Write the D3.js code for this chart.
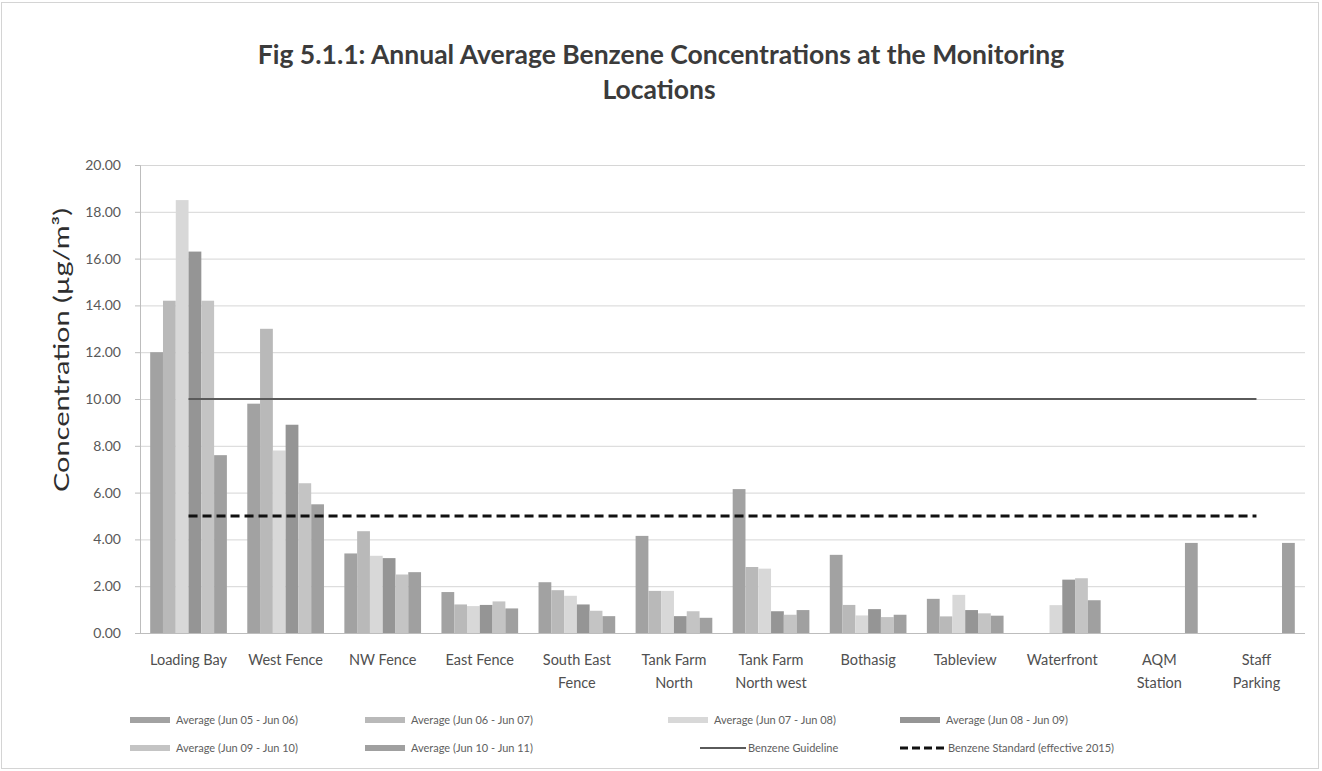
<!DOCTYPE html>
<html><head><meta charset="utf-8">
<script src="https://cdn.jsdelivr.net/npm/d3@7"></script>
<style>html,body{margin:0;padding:0;background:#fff;}svg{display:block;}</style>
</head><body>
<svg id="chart" width="1322" height="771"></svg>
<script>
const categories = ["Loading Bay","West Fence","NW Fence","East Fence","South East Fence","Tank Farm North","Tank Farm North west","Bothasig","Tableview","Waterfront","AQM Station","Staff Parking"];
const categoryLines = [["Loading Bay"],["West Fence"],["NW Fence"],["East Fence"],["South East","Fence"],["Tank Farm","North"],["Tank Farm","North west"],["Bothasig"],["Tableview"],["Waterfront"],["AQM","Station"],["Staff","Parking"]];
const seriesNames = ["Average (Jun 05 - Jun 06)","Average (Jun 06 - Jun 07)","Average (Jun 07 - Jun 08)","Average (Jun 08 - Jun 09)","Average (Jun 09 - Jun 10)","Average (Jun 10 - Jun 11)"];
const avg0506 = [12.0, 9.8, 3.4, 1.75, 2.17, 4.15, 6.15, 3.34, 1.46, null, null, null];
const avg0607 = [14.2, 13.0, 4.35, 1.22, 1.83, 1.8, 2.82, 1.2, 0.71, null, null, null];
const avg0708 = [18.5, 7.8, 3.3, 1.15, 1.59, 1.8, 2.75, 0.75, 1.63, 1.19, null, null];
const avg0809 = [16.3, 8.9, 3.2, 1.2, 1.22, 0.72, 0.93, 1.02, 0.98, 2.28, null, null];
const avg0910 = [14.2, 6.4, 2.5, 1.35, 0.95, 0.93, 0.78, 0.68, 0.84, 2.34, null, null];
const avg1011 = [7.6, 5.5, 2.6, 1.05, 0.72, 0.65, 0.98, 0.78, 0.74, 1.40, 3.85, 3.85];
const guideline = [10,10,10,10,10,10,10,10,10,10,10,10];
const standard2015 = [5,5,5,5,5,5,5,5,5,5,5,5];
const lineNames = ["Benzene Guideline","Benzene Standard (effective 2015)"];
const yTicks = [0,2,4,6,8,10,12,14,16,18,20];
const titleLines = ["Fig 5.1.1: Annual Average Benzene Concentrations at the Monitoring","Locations"];
const yTitle = "Concentration (\u00b5g/m\u00b3)";

const seriesValues = [avg0506, avg0607, avg0708, avg0809, avg0910, avg1011];
const seriesColors = ["#a2a2a2","#b9b9b9","#d8d8d8","#959595","#c4c4c4","#a0a0a0"];
const FONT = "Lato, 'Open Sans', sans-serif";

const svg = d3.select("#chart");
function fit(sel, target){
  const n = sel.node(); const w = n.getComputedTextLength();
  const fs = parseFloat(sel.attr("font-size"));
  if (w>0) sel.attr("font-size", (fs*target/w).toFixed(2));
}

// outer frame
svg.append("rect").attr("x",1.5).attr("y",2.5).attr("width",1317).attr("height",766)
  .attr("fill","none").attr("stroke","#d4d4d4").attr("stroke-width",1);

const plotL = 140, plotR = 1305, plotT = 165, plotB = 633;
const y = d3.scaleLinear().domain([0,20]).range([plotB, plotT]);
const x0 = d3.scaleBand().domain(categories).range([plotL, plotR]).paddingInner(0.21).paddingOuter(0.105);
const x1 = d3.scaleBand().domain(seriesNames).range([0, x0.bandwidth()]);

// gridlines
svg.append("g").selectAll("line").data(yTicks.filter(d=>d>0)).join("line")
  .attr("x1", plotL).attr("x2", plotR).attr("y1", d=>y(d)+0.5).attr("y2", d=>y(d)+0.5)
  .attr("stroke","#d6d6d6").attr("stroke-width",1);

// bars
const gBars = svg.append("g");
seriesValues.forEach((vals, si) => {
  gBars.append("g").selectAll("rect").data(categories.map((c,i)=>({c, v: vals[i]})).filter(d=>d.v!=null)).join("rect")
    .attr("x", d => x0(d.c) + x1(seriesNames[si]))
    .attr("width", x1.bandwidth())
    .attr("y", d => y(d.v))
    .attr("height", d => y(0) - y(d.v))
    .attr("fill", seriesColors[si]);
});

// lines
const lineGen = d3.line().x((d,i)=>x0(categories[i]) + x0.bandwidth()/2).y(d=>y(d));
svg.append("path").attr("d", lineGen(guideline)).attr("fill","none").attr("stroke","#5a5a5a").attr("stroke-width",2);
svg.append("path").attr("d", lineGen(standard2015)).attr("fill","none").attr("stroke","#111").attr("stroke-width",3).attr("stroke-dasharray","9,5");

// y axis
const yAxis = d3.axisLeft(y).tickValues(yTicks).tickFormat(d3.format(".2f")).tickSize(5).tickPadding(14);
const ga = svg.append("g").attr("transform",`translate(${plotL},0)`).call(yAxis);
ga.select(".domain").attr("stroke","#bdbdbd");
ga.selectAll(".tick line").attr("stroke","#bdbdbd");
ga.selectAll(".tick text").attr("font-family",FONT).attr("font-size",14).attr("fill","#595959");

// x axis baseline
svg.append("line").attr("x1",plotL).attr("x2",plotR).attr("y1",plotB+0.5).attr("y2",plotB+0.5).attr("stroke","#bdbdbd");

// x labels
const gx = svg.append("g");
categories.forEach((c,i)=>{
  const t = gx.append("text").attr("x", x0(c)+x0.bandwidth()/2).attr("y", 665)
    .attr("text-anchor","middle").attr("font-family",FONT).attr("font-size",14.5).attr("fill","#505050");
  categoryLines[i].forEach((ln,j)=>{
    t.append("tspan").attr("x", x0(c)+x0.bandwidth()/2).attr("dy", j===0?0:23).text(ln);
  });
});

// y title
svg.append("text").attr("transform","translate(69,350) rotate(-90)").attr("text-anchor","middle")
  .attr("font-family",FONT).attr("font-size",21).attr("fill","#2e2e2e")
  .attr("textLength",284).attr("lengthAdjust","spacingAndGlyphs").text(yTitle);

// title
const t1 = svg.append("text").attr("x",661).attr("y",64).attr("text-anchor","middle")
  .attr("font-family",FONT).attr("font-weight","bold").attr("font-size",26).attr("fill","#3b3b3b").text(titleLines[0]);
fit(t1, 807);
const tfs = t1.attr("font-size");
svg.append("text").attr("x",659).attr("y",99).attr("text-anchor","middle")
  .attr("font-family",FONT).attr("font-weight","bold").attr("font-size",tfs).attr("fill","#3b3b3b").text(titleLines[1]);

// legend
const legItems = [
  {type:"bar", name:seriesNames[0], color:seriesColors[0], x:130, y:720},
  {type:"bar", name:seriesNames[1], color:seriesColors[1], x:365, y:720},
  {type:"bar", name:seriesNames[2], color:seriesColors[2], x:668, y:720},
  {type:"bar", name:seriesNames[3], color:seriesColors[3], x:900, y:720},
  {type:"bar", name:seriesNames[4], color:seriesColors[4], x:130, y:748},
  {type:"bar", name:seriesNames[5], color:seriesColors[5], x:365, y:748},
  {type:"solid", name:lineNames[0], x:700, y:748},
  {type:"dash", name:lineNames[1], x:900, y:748}
];
const gl = svg.append("g");
legItems.forEach(it=>{
  if (it.type==="bar") {
    gl.append("rect").attr("x",it.x).attr("y",it.y-3).attr("width",40).attr("height",6).attr("fill",it.color);
  } else if (it.type==="solid") {
    gl.append("line").attr("x1",it.x).attr("x2",it.x+46).attr("y1",it.y).attr("y2",it.y).attr("stroke","#5a5a5a").attr("stroke-width",2);
  } else {
    gl.append("line").attr("x1",it.x).attr("x2",it.x+45).attr("y1",it.y).attr("y2",it.y).attr("stroke","#111").attr("stroke-width",3).attr("stroke-dasharray","8,4");
  }
  const tx = it.type==="bar" ? it.x+46 : it.x+48;
  gl.append("text").attr("x",tx).attr("y",it.y+4).attr("font-family",FONT).attr("font-size",11).attr("fill","#606060").text(it.name);
});
</script>
</body></html>
